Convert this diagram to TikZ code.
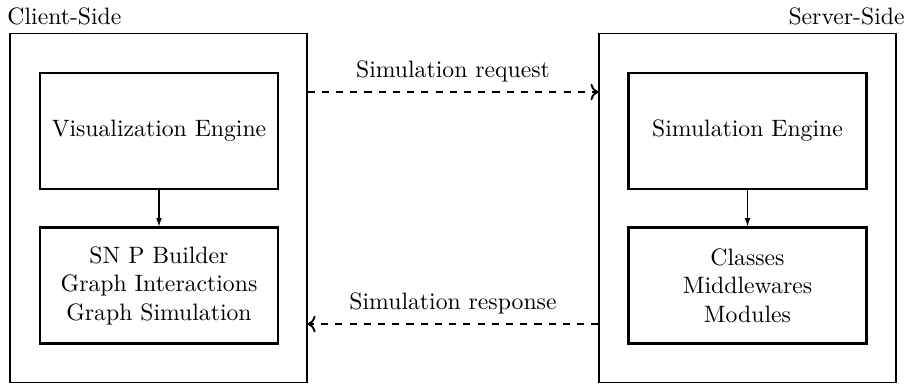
\documentclass[tikz,border=0pt]{standalone}
\usetikzlibrary{arrows.meta,calc}
\begin{document}
\begin{tikzpicture}[x=0.4219pt,y=-0.4219pt,
  sidebox/.style={draw,line width=0.5pt,minimum width=125.3pt,minimum height=147.2pt,inner sep=0pt},
  partbox/.style={draw,line width=0.9pt,minimum width=100.4pt,minimum height=48.9pt,inner sep=0pt,align=center},
  sidelabel/.style={inner sep=0pt},
  flow/.style={-{Latex[length=3.5pt,width=2.4pt]},line width=0.45pt},
  msg/.style={->,dashed,line width=0.8pt},
  msglabel/.style={inner sep=0pt}]
  \useasboundingbox (0,0) rectangle (908,383);

  % client and server containers
  \node[sidebox] (client) at (158.5,207.7) {};
  \node[sidebox] (server) at (747.5,207.7) {};
  \node[sidelabel,anchor=west] (clientlbl) at (7,16) {Client-Side};
  \node[sidelabel,anchor=east] (serverlbl) at (905,16) {Server-Side};

  % client parts
  \node[partbox] (vis) at (159,131) {Visualization Engine};
  \node[partbox] (builder) at (159,285.5) {SN P Builder\\Graph Interactions\\Graph Simulation};
  \draw[flow] (vis) -- (builder);

  % server parts
  \node[partbox] (sim) at (747.5,131) {Simulation Engine};
  \node[partbox] (mods) at (747.5,285.5) {Classes\\Middlewares\\Modules};
  \draw[flow] (sim) -- (mods);

  % messages between the two sides
  \coordinate (req) at (453,92);
  \coordinate (resp) at (453,324);
  \draw[msg] (client.east |- req) -- (server.west |- req);
  \draw[msg] (server.west |- resp) -- (client.east |- resp);
  \node[msglabel] (reqlbl) at (453,71) {Simulation request};
  \node[msglabel] (resplbl) at (453,303) {Simulation response};
\end{tikzpicture}
\end{document}
